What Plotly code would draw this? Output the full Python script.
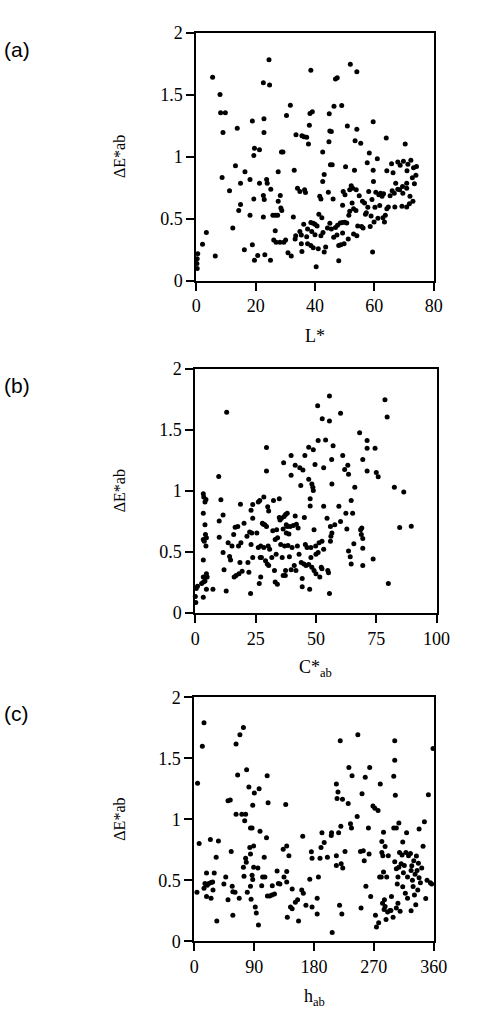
import plotly.graph_objects as go

# ---------------- data ----------------
a_L = [0.5, 0.3, 0.2, 0.3, 2.1, 3.4, 5.5, 6.4, 8.0, 8.2, 9.8, 9.0, 8.7, 11.2, 12.3, 13.2, 13.8, 14.3, 14.9, 14.9,
       16.2, 16.4, 18.1, 18.1, 18.9, 18.9, 19.4, 19.6, 19.4, 19.6, 20.7, 21.3, 21.3, 22.6, 22.8, 22.8, 22.6, 22.9, 22.6, 23.1,
       23.7, 23.9, 24.5, 24.7, 25.0, 25.1, 25.8, 26.6, 27.4, 26.1, 26.9, 26.6, 27.6, 27.6, 28.2, 28.3, 28.5, 28.8, 28.7, 29.2,
       29.5, 30.1, 30.4, 30.9, 32.0, 31.7, 32.7, 33.0, 33.3, 33.5, 33.6, 34.1, 34.9, 34.9, 35.4, 35.4, 35.6, 35.6, 36.3, 37.2,
       36.2, 36.5, 36.8, 37.2, 37.5, 37.5, 37.8, 38.1, 38.3, 39.1, 38.6, 38.6, 39.4, 40.0, 38.6, 39.4, 38.9, 40.0, 40.4, 40.7,
       41.1, 41.3, 41.6, 42.0, 42.0, 42.7, 42.3, 42.6, 42.6, 43.1, 43.1, 43.6, 44.2, 44.5, 44.7, 44.8, 45.0, 45.5, 45.0, 45.5,
       45.2, 45.8, 46.1, 46.3, 46.4, 46.9, 47.5, 46.9, 47.4, 47.6, 48.0, 48.0, 48.7, 49.0, 49.3, 49.5, 49.3, 48.5, 49.2, 50.0,
       50.7, 49.8, 50.3, 50.1, 50.9, 51.2, 51.4, 51.7, 51.9, 51.7, 52.2, 52.7, 52.5, 53.0, 53.8, 53.0, 53.3, 53.5, 54.1, 54.1,
       53.9, 54.1, 54.4, 54.9, 55.4, 55.7, 56.2, 56.0, 56.7, 57.0, 57.3, 57.6, 57.8, 58.1, 58.3, 58.6, 58.9, 59.2, 59.4, 59.6,
       59.6, 59.7, 59.9, 60.2, 60.5, 61.0, 61.2, 61.5, 61.8, 62.1, 62.6, 63.1, 62.9, 63.4, 63.7, 64.0, 64.2, 64.2, 64.7, 65.3,
       65.8, 66.0, 66.3, 66.7, 66.9, 67.2, 67.9, 67.9, 68.7, 69.3, 69.5, 70.4, 69.8, 71.3, 71.0, 68.5, 69.6, 70.9, 70.9, 70.9,
       72.3, 73.2, 74.2, 72.8, 73.5, 72.0, 74.0, 71.8, 73.0]
a_dE = [0.217, 0.177, 0.137, 0.098, 0.293, 0.388, 1.64, 0.198, 1.50, 1.353, 1.353, 1.194, 0.832, 0.724, 0.423, 0.925, 1.228, 0.565, 0.613, 0.785,
        0.248, 0.877, 0.526, 0.816, 1.287, 0.288, 1.009, 1.067, 0.658, 0.164, 0.203, 1.054, 0.785, 1.596, 1.305, 1.194, 0.687, 0.653, 0.512, 0.209,
        0.816, 0.785, 1.78, 1.577, 0.164, 0.737, 0.526, 0.526, 0.526, 0.328, 0.309, 0.402, 0.877, 0.639, 0.309, 0.687, 0.586, 0.565, 1.036, 1.036,
        0.309, 0.328, 1.332, 0.225, 0.198, 1.413, 0.512, 0.890, 0.336, 0.362, 1.176, 0.745, 0.719, 0.396, 0.367, 0.296, 0.235, 1.168, 1.160, 1.155,
        0.454, 0.732, 0.711, 0.354, 0.415, 0.296, 1.102, 1.252, 1.347, 1.361, 1.696, 0.468, 0.462, 0.454, 0.283, 0.264, 0.396, 0.370, 0.111, 0.441,
        0.256, 0.534, 0.679, 0.658, 0.362, 0.388, 0.507, 1.036, 0.798, 0.856, 0.230, 0.270, 0.423, 0.713, 1.120, 1.345, 1.207, 1.202, 0.462, 0.415,
        0.935, 0.935, 0.658, 0.349, 1.406, 1.625, 1.635, 0.428, 0.367, 0.446, 0.159, 0.283, 0.288, 1.411, 0.608, 0.719, 0.383, 0.465, 0.468, 0.470,
        0.465, 0.296, 0.917, 0.692, 1.247, 0.336, 0.526, 0.560, 1.744, 0.732, 0.764, 0.745, 0.626, 0.579, 0.565, 0.375, 0.890, 1.128, 1.683, 1.221,
        0.732, 0.362, 0.441, 0.684, 1.107, 0.436, 0.423, 0.639, 0.626, 0.534, 0.547, 0.951, 0.592, 0.719, 1.028, 0.436, 0.520, 0.653, 0.230, 1.281,
        0.890, 0.798, 0.473, 0.592, 0.713, 0.983, 0.502, 0.692, 0.605, 0.705, 0.679, 0.700, 0.507, 0.473, 0.526, 1.149, 0.885, 0.579, 0.594, 0.684,
        0.943, 0.724, 0.869, 0.705, 0.594, 0.785, 0.956, 0.737, 0.930, 0.600, 0.758, 1.102, 0.963, 0.938, 0.885, 0.732, 0.705, 0.785, 0.745, 0.594,
        0.97, 0.91, 0.92, 0.83, 0.78, 0.68, 0.85, 0.62, 0.64]

b_C = [0.0, 0.2, 0.4, 0.9, 3.3, 2.6, 3.3, 3.5, 4.0, 3.3, 3.3, 3.7, 3.3, 3.3, 3.4, 4.0, 4.0, 4.2, 4.6, 4.4,
       4.6, 4.9, 4.6, 4.4, 7.3, 9.7, 9.9, 9.9, 10.6, 11.5, 11.5, 11.9, 12.8, 13.0, 13.6, 14.2, 14.6, 15.2, 15.9, 16.1,
       16.5, 16.9, 17.6, 17.9, 18.1, 18.5, 18.7, 18.9, 19.4, 20.2, 21.4, 21.8, 22.2, 22.5, 22.9, 23.1, 23.1, 23.4, 23.8, 23.8,
       23.8, 25.5, 26.1, 26.1, 26.5, 26.7, 26.9, 27.1, 27.1, 27.4, 27.8, 28.2, 28.4, 28.4, 28.8, 29.1, 29.5, 29.5, 29.5, 29.8,
       30.0, 30.4, 30.2, 30.4, 30.8, 31.7, 32.1, 32.4, 32.8, 33.1, 34.0, 33.1, 33.5, 33.7, 34.1, 34.8, 34.8, 35.1, 35.4, 35.7,
       36.0, 36.4, 37.3, 36.4, 36.6, 36.8, 37.4, 37.0, 37.4, 37.7, 38.1, 37.7, 38.1, 38.4, 38.8, 39.0, 39.3, 39.7, 39.7, 39.7,
       40.1, 40.6, 41.0, 41.4, 41.4, 41.7, 41.9, 42.3, 42.6, 43.0, 43.3, 43.7, 43.9, 44.3, 44.3, 44.6, 45.0, 45.2, 45.4, 45.6,
       46.3, 45.9, 47.0, 47.0, 47.0, 47.4, 47.6, 47.6, 47.9, 47.9, 48.3, 48.7, 48.9, 48.3, 48.9, 49.2, 49.2, 49.6, 49.9, 50.0,
       50.9, 50.0, 50.7, 50.9, 51.3, 51.6, 52.2, 52.5, 52.5, 52.6, 53.2, 53.2, 53.2, 54.0, 54.6, 54.9, 55.2, 55.6, 55.6, 55.6,
       56.0, 56.2, 56.6, 56.5, 56.6, 56.0, 57.1, 57.8, 59.5, 60.2, 60.2, 61.1, 61.9, 62.4, 62.8, 63.2, 63.5, 63.5, 64.2, 64.6,
       64.6, 65.2, 65.7, 66.1, 68.1, 68.5, 69.0, 68.8, 69.4, 69.4, 69.4, 69.4, 71.2, 71.2, 71.2, 73.7, 74.5, 75.0, 75.8, 78.6,
       79.5, 80.0, 82.5, 86.4, 84.7, 89.5]
b_dE = [0.134, 0.086, 0.20, 0.219, 0.128, 0.241, 0.976, 0.949, 0.909, 0.816, 0.602, 0.588, 0.433, 0.294, 0.254, 0.262, 0.722, 0.642, 0.615, 0.548,
        0.321, 0.294, 0.193, 0.930, 0.193, 1.118, 0.754, 0.620, 0.928, 0.802, 0.495, 0.353, 0.179, 1.644, 0.575, 0.463, 0.433, 0.548, 0.642, 0.294,
        0.701, 0.307, 0.709, 0.548, 0.321, 0.414, 0.890, 0.575, 0.342, 0.735, 0.628, 0.414, 0.334, 0.663, 0.160, 0.842, 0.561, 0.655, 0.888, 0.775,
        0.455, 0.655, 0.909, 0.535, 0.241, 0.922, 0.455, 0.548, 0.294, 0.455, 0.735, 0.727, 0.949, 0.535, 0.722, 0.428, 1.356, 1.163, 0.709, 0.401,
        0.869, 0.834, 0.548, 0.388, 0.521, 0.455, 0.674, 0.922, 0.348, 0.254, 0.235, 0.602, 0.481, 0.682, 0.615, 0.936, 0.781, 0.762, 0.561, 0.775,
        0.455, 0.307, 0.307, 0.687, 1.230, 0.789, 0.807, 0.548, 0.348, 0.722, 0.709, 0.655, 0.816, 0.553, 0.647, 0.460, 0.709, 1.289, 1.128, 0.353,
        0.535, 0.717, 0.388, 1.209, 0.794, 0.348, 0.727, 0.548, 0.695, 0.481, 1.190, 1.043, 0.414, 0.281, 0.214, 1.171, 0.401, 0.781, 1.289, 0.561,
        0.535, 0.388, 1.358, 1.096, 0.396, 0.193, 0.936, 0.877, 0.535, 0.455, 1.056, 1.029, 1.003, 0.374, 1.337, 0.348, 0.682, 1.217, 0.548, 0.481,
        0.495, 0.321, 1.698, 1.412, 0.575, 0.294, 0.374, 0.361, 0.588, 1.591, 1.190, 0.874, 0.521, 1.417, 0.775, 0.348, 0.329, 1.778, 1.572, 0.160,
        0.709, 0.628, 0.655, 1.257, 1.056, 0.588, 1.369, 0.722, 0.874, 1.636, 0.749, 1.289, 1.176, 0.816, 0.687, 1.209, 1.136, 0.508, 0.460, 0.922,
        0.401, 0.816, 0.567, 1.029, 1.476, 0.682, 0.695, 0.642, 1.257, 0.610, 0.529, 0.388, 1.412, 1.350, 1.163, 0.441, 1.350, 1.150, 1.115, 1.746,
        1.605, 0.241, 1.03, 0.99, 0.70, 0.71]

c_h = [4.8, 3.9, 7.2, 12.0, 14.5, 14.5, 15.9, 18.3, 18.3, 19.3, 21.7, 24.1, 25.1, 27.5, 25.1, 28.0, 29.9, 32.8, 33.8, 36.2,
       44.4, 47.2, 50.6, 50.6, 54.0, 55.4, 56.9, 57.9, 57.9, 61.2, 62.7, 62.7, 65.1, 67.5, 68.5, 71.4, 73.8, 73.8, 74.7, 75.7,
       77.1, 77.1, 78.1, 78.6, 79.6, 82.0, 83.4, 84.4, 84.4, 86.8, 84.4, 85.3, 86.8, 87.8, 87.8, 89.2, 90.2, 89.2, 91.6, 93.1,
       96.4, 95.5, 97.4, 98.8, 101.3, 102.7, 106.1, 105.1, 108.5, 109.5, 110.9, 109.9, 113.3, 116.7, 117.2, 120.5, 124.4, 126.3, 128.7, 133.6,
       134.8, 137.4, 138.9, 138.9, 138.9, 139.8, 142.2, 144.6, 147.1, 147.1, 151.9, 155.3, 156.7, 161.5, 163.9, 163.0, 167.8, 173.6, 176.0, 177.0,
       177.0, 184.7, 184.7, 186.6, 189.0, 190.5, 191.9, 195.3, 200.1, 205.9, 206.4, 207.3, 213.6, 213.6, 213.6, 214.6, 216.0, 217.0, 218.4, 219.4,
       220.3, 220.8, 223.2, 221.8, 222.8, 226.6, 231.4, 232.4, 234.8, 236.3, 237.2, 244.9, 245.9, 249.8, 250.7, 252.2, 254.1, 255.5, 257.0, 258.0,
       261.8, 262.8, 263.7, 265.2, 268.6, 271.5, 272.4, 273.9, 276.3, 277.2, 278.7, 279.6, 281.1, 282.0, 282.0, 283.0, 283.5, 284.5, 284.5, 285.4,
       285.9, 286.9, 286.9, 288.3, 289.3, 290.7, 291.7, 294.1, 295.6, 296.5, 298.9, 299.9, 301.4, 301.4, 299.9, 301.4, 302.3, 303.8, 303.8, 303.8,
       305.2, 306.2, 306.2, 307.6, 307.6, 308.6, 309.5, 311.0, 312.4, 313.4, 313.4, 314.4, 315.8, 317.3, 318.2, 319.2, 320.6, 320.6, 322.1,
       325.0, 326.0, 327.0, 328.0, 329.0, 330.0, 331.0, 332.0, 334.0, 335.0, 336.0, 337.0, 338.0, 340.0, 342.0, 344.0, 346.0, 348.0, 350.0, 352.0,
       355.0, 357.0, 359.0, 338.0, 333.0, 326.0]
c_dE = [1.296, 0.402, 0.801, 1.598, 1.791, 0.434, 0.474, 0.560, 0.367, 0.460, 0.474, 0.835, 0.482, 0.487, 0.353, 0.420, 0.560, 0.688, 0.166, 0.822,
        0.469, 0.527, 0.340, 1.151, 1.157, 0.736, 0.452, 0.214, 0.407, 0.402, 1.617, 1.042, 1.363, 0.353, 1.692, 1.042, 1.751, 0.608, 0.533, 0.988,
        1.042, 0.680, 0.648, 1.406, 0.402, 1.264, 0.768, 0.715, 0.929, 0.929, 0.452, 0.345, 0.541, 0.506, 1.116, 0.608, 1.215, 0.782, 0.281, 0.233,
        0.134, 0.600, 1.250, 0.902, 0.455, 0.527, 0.527, 0.688, 0.849, 1.357, 1.135, 0.372, 0.372, 0.380, 0.455, 0.388, 0.576, 0.474, 0.469, 0.755,
        0.527, 1.122, 0.782, 0.573, 0.487, 0.198, 0.701, 0.281, 0.268, 0.428, 0.321, 0.340, 0.166, 0.420, 0.394, 0.862, 0.295, 0.509, 0.734, 0.680,
        0.281, 0.225, 0.353, 0.527, 0.680, 0.768, 0.889, 0.809, 0.688, 0.867, 0.889, 0.072, 1.290, 0.701, 0.621, 1.170, 1.224, 0.889, 0.295, 1.644,
        0.942, 0.635, 0.600, 0.225, 1.165, 0.736, 1.130, 1.424, 0.964, 0.929, 1.357, 1.023, 1.692, 0.736, 0.273, 1.210, 0.742, 0.661, 1.344, 0.452,
        0.929, 0.715, 1.424, 0.367, 1.108, 1.090, 0.214, 0.118, 1.071, 0.153, 0.527, 1.290, 0.527, 0.817, 0.728, 0.313, 0.701, 0.894, 0.568, 0.260,
        0.340, 0.776, 0.286, 0.179, 0.527, 0.241, 0.701, 0.252, 0.252, 0.367, 0.198, 0.929, 1.644, 1.483, 1.352, 0.653, 1.197, 0.929, 0.594, 0.273,
        0.469, 0.527, 0.313, 0.969, 0.608, 0.728, 0.246, 0.635, 0.707, 0.814, 0.447, 0.562, 0.621, 0.394, 0.728, 0.889, 0.527, 0.353, 0.701,
        0.72, 0.58, 0.62, 0.50, 0.45, 0.66, 0.38, 0.55, 0.70, 0.58, 0.42, 0.64, 0.52, 0.48, 0.60, 0.78, 0.98, 0.35, 0.50, 1.20,
        0.48, 0.47, 1.58, 0.92, 0.30, 0.25]

a_xticks = [0, 20, 40, 60, 80]
b_xticks = [0, 25, 50, 75, 100]
c_xticks = [0, 90, 180, 270, 360]
y_ticks = [0, 0.5, 1, 1.5, 2]
y_ticklabels = ["0", "0.5", "1", "1.5", "2"]
x_titles = ["L*", "C*<sub>ab</sub>", "h<sub>ab</sub>"]
panel_labels = ["(a)", "(b)", "(c)"]
y_title = "ΔE*ab"

# ---------------- layout geometry (pixels) ----------------
W, H = 490, 1018
panels = [  # left, right, top, bottom in px
    (199, 446, 23, 276),
    (198, 449, 366, 615),
    (197, 446, 701, 950),
]
x_ranges = [[0, 80], [0, 100], [0, 360]]
x_tick_sets = [a_xticks, b_xticks, c_xticks]
data_sets = [(a_L, a_dE), (b_C, b_dE), (c_h, c_dE)]

serif = "Liberation Serif, Times New Roman, serif"
fig = go.Figure()
layout = dict(
    width=W, height=H, margin=dict(l=0, r=0, t=0, b=0),
    paper_bgcolor="white", plot_bgcolor="white", showlegend=False,
    font=dict(family=serif, color="black", size=18),
)
annotations = []
for i, ((l, r, t, b), xr, xt, (xs, ys)) in enumerate(zip(panels, x_ranges, x_tick_sets, data_sets)):
    n = "" if i == 0 else str(i + 1)
    fig.add_trace(go.Scatter(
        x=xs, y=ys, mode="markers", xaxis="x" + n, yaxis="y" + n,
        marker=dict(size=5, color="black", line=dict(width=0)),
        cliponaxis=False, hoverinfo="skip",
    ))
    common = dict(showgrid=False, zeroline=False, showline=True, linecolor="black",
                  linewidth=2, mirror=True, ticks="outside", ticklen=8, tickwidth=1.5,
                  tickcolor="black", tickfont=dict(family=serif, size=18, color="black"))
    layout["xaxis" + n] = dict(common, domain=[l / W, r / W], range=xr, tickvals=xt,
                               anchor="y" + n, fixedrange=True)
    layout["yaxis" + n] = dict(common, domain=[1 - b / H, 1 - t / H], range=[0, 2],
                               tickvals=y_ticks, ticktext=y_ticklabels, anchor="x" + n,
                               fixedrange=True)
    annotations.append(dict(text=y_title, textangle=-90, xref="paper", yref="paper",
                            x=119 / W, y=1 - ((t + b) / 2) / H, showarrow=False,
                            font=dict(family=serif, size=16, color="black"),
                            xanchor="center", yanchor="middle"))
    annotations.append(dict(text=x_titles[i], xref="paper", yref="paper",
                            x=((l + r) / 2) / W, y=1 - (b + 57) / H, showarrow=False,
                            font=dict(family=serif, size=18, color="black"),
                            xanchor="center", yanchor="middle"))
    annotations.append(dict(text=panel_labels[i], xref="paper", yref="paper",
                            x=0, y=1 - (t + 17) / H, showarrow=False, xshift=-3,
                            font=dict(family="Liberation Sans, Arial, sans-serif", size=21, color="black"),
                            xanchor="left", yanchor="middle"))
layout["annotations"] = annotations
fig.update_layout(**layout)
fig.write_html("out.html")
